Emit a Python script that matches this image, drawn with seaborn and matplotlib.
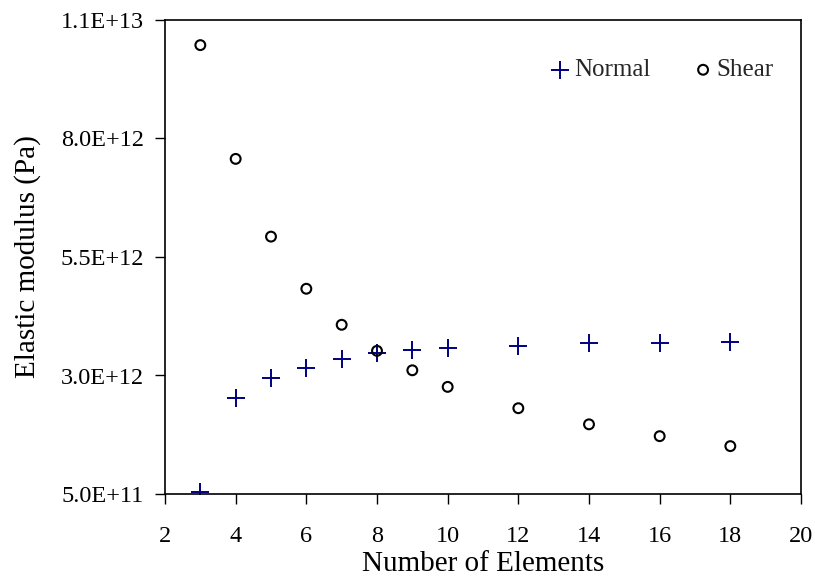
import matplotlib
matplotlib.use("Agg")
import matplotlib.pyplot as plt
import seaborn as sns
import pandas as pd

elements = [3, 4, 5, 6, 7, 8, 9, 10, 12, 14, 16, 18]
normal = [0.55e12, 2.53e12, 2.95e12, 3.16e12, 3.34e12, 3.47e12, 3.54e12, 3.58e12, 3.63e12, 3.68e12, 3.68e12, 3.71e12]
shear = [9.97e12, 7.57e12, 5.93e12, 4.83e12, 4.07e12, 3.52e12, 3.11e12, 2.76e12, 2.31e12, 1.97e12, 1.72e12, 1.51e12]
x_ticks = [2, 4, 6, 8, 10, 12, 14, 16, 18, 20]
y_ticks = [5.0e11, 3.0e12, 5.5e12, 8.0e12, 1.05e13]
y_tick_labels = ["5.0E+11", "3.0E+12", "5.5E+12", "8.0E+12", "1.1E+13"]

sns.set_theme(style="ticks")
plt.rcParams['font.family'] = ['Liberation Serif', 'DejaVu Serif']

df_n = pd.DataFrame({"x": elements, "y": normal})
df_s = pd.DataFrame({"x": elements, "y": shear})

fig = plt.figure(figsize=(8.15, 5.79), dpi=100)
ax = fig.add_axes([165/815, 1-494/579, (801-165)/815, (494-20)/579])

sns.scatterplot(data=df_n, x="x", y="y", marker="+", s=170, color="#000080",
                linewidth=1.4, ax=ax, label="Normal")
sns.scatterplot(data=df_s, x="x", y="y", marker="o", s=50, facecolors="none",
                edgecolors="black", linewidth=1.5, ax=ax, label="Shear")

ax.set_xlim(2, 20)
ax.set_ylim(5.0e11, 1.05e13)
ax.set_xticks(x_ticks)
ax.set_xticklabels([str(t) for t in x_ticks])
ax.set_yticks(y_ticks)
ax.set_yticklabels(y_tick_labels)
ax.tick_params(axis="both", direction="out", length=7, width=1, labelsize=17.5,
               colors="black")
ax.tick_params(axis="x", pad=16)
ax.tick_params(axis="y", pad=8)
for sp in ax.spines.values():
    sp.set_visible(True)
    sp.set_color("black")
    sp.set_linewidth(1.2)

ax.set_xlabel("Number of Elements", fontsize=21, color="black", labelpad=3)
ax.set_ylabel("Elastic modulus (Pa)", fontsize=21, color="black", labelpad=14)

leg = ax.legend(ncol=2, frameon=False, fontsize=18, loc="upper right",
                bbox_to_anchor=(0.985, 0.955), handletextpad=0.05,
                columnspacing=1.6, handlelength=1.0, borderaxespad=0.3)
leg.legend_handles[1].set_facecolor("none")
leg.legend_handles[1].set_edgecolor("black")

fig.savefig("out.png", dpi=100)
